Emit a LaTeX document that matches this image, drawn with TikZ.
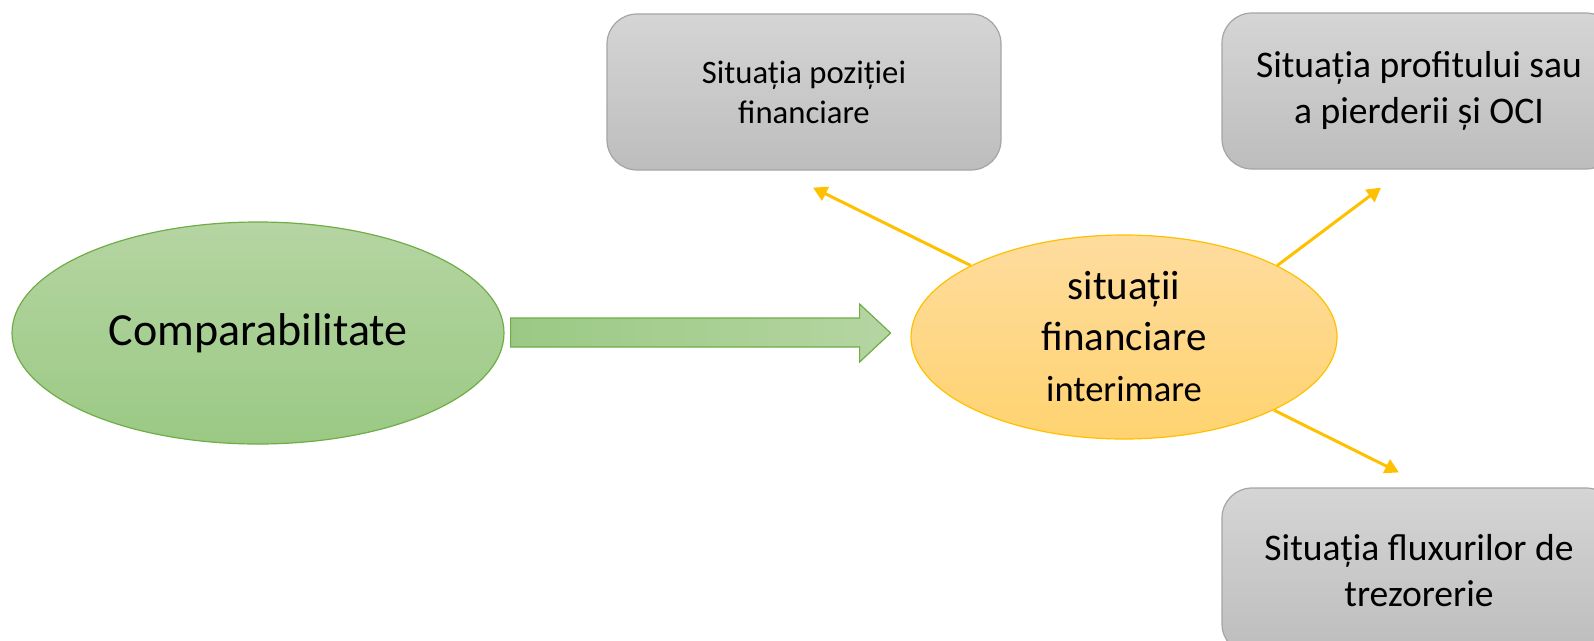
\documentclass[tikz,border=0pt]{standalone}
\usepackage{fontspec}
\setmainfont{Carlito}
\usepackage{tikz}
\usetikzlibrary{arrows.meta,positioning,shapes.geometric}
\definecolor{boxtop}{HTML}{D5D5D5}
\definecolor{boxbot}{HTML}{BDBDBD}
\definecolor{boxedge}{HTML}{A5A5A5}
\definecolor{greentop}{HTML}{B5D5A2}
\definecolor{greenbot}{HTML}{9BC984}
\definecolor{greenedge}{HTML}{70AD47}
\definecolor{orangetop}{HTML}{FEDC9E}
\definecolor{orangebot}{HTML}{FFD370}
\definecolor{gold}{HTML}{FFC000}

\begin{document}
\begin{tikzpicture}[
  x=1pt, y=-1pt,
  stmt/.style={rectangle, rounded corners=30pt, draw=boxedge, line width=1.2pt, top color=boxtop, bottom color=boxbot, align=center, minimum width=394pt, minimum height=156pt, inner sep=0pt},
  small/.style={font=\fontsize{32.7}{40}\selectfont},
  big/.style={font=\fontsize{37.6}{46}\selectfont},
  idea/.style={ellipse, draw=greenedge, line width=1.2pt, top color=greentop, bottom color=greenbot, minimum width=492pt, minimum height=222pt, inner sep=0pt, font=\fontsize{46}{56}\selectfont},
  core/.style={ellipse, draw=gold, line width=1.2pt, top color=orangetop, bottom color=orangebot, align=center, minimum width=426pt, minimum height=204pt, inner sep=0pt, font=\fontsize{41}{51}\selectfont},
  flow/.style={draw=greenedge, line width=1.2pt, left color=greenbot, right color=greentop},
  arrow/.style={-{Triangle[length=14pt, width=15pt]}, line width=3pt, draw=gold}
]
\useasboundingbox (0,0) rectangle (1594,640);
\clip (0,0) rectangle (1594,640);
\node[idea] (comp) at (258,333) {Comparabilitate};
\node[core] (sit) at (1124,337) {situații\\financiare\\{\fontsize{36.6}{51}\selectfont interimare}};
\node[stmt, small] (poz) at (804,92) {Situația poziției\\financiare};
\node[stmt, big] (prof) at (1419,91) {Situația profitului sau\\a pierderii și OCI};
\node[stmt, big, minimum height=166pt] (flux) at (1419,571) {Situația fluxurilor de\\trezorerie};
% sageata groasa spre situatii interimare
\draw[flow] ([xshift=6pt, yshift=15pt]comp.east) -- ++(349,0) -- ++(0,-14) -- ++(31,29) -- ++(-31,29) -- ++(0,-15) -- ++(-349,0) -- cycle;
% capete libere ale sagetilor
\coordinate (pozin) at ([xshift=9pt, yshift=-17pt]poz.south);
\coordinate (profin) at ([xshift=-38pt, yshift=-18pt]prof.south);
\coordinate (fluxin) at ([xshift=-20pt, yshift=15pt]flux.north);
\draw[arrow] (sit.155) -- (pozin);
\draw[arrow] (sit.25) -- (profin);
\draw[arrow] (sit.-26) -- (fluxin);
\end{tikzpicture}
\end{document}
